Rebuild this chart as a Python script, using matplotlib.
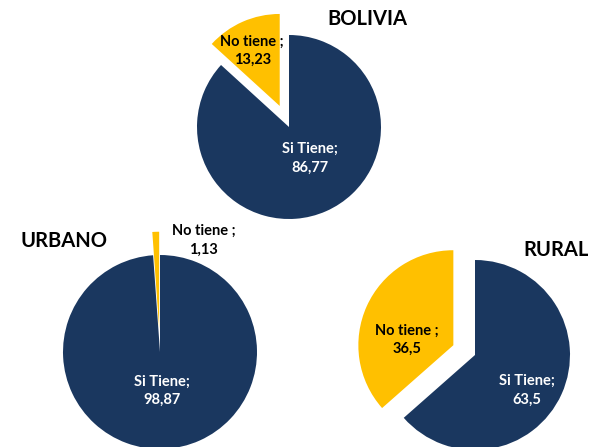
import matplotlib
matplotlib.use("Agg")
import matplotlib.pyplot as plt

categories = ["Si Tiene", "No tiene"]
label_fmt = ["Si Tiene;\n{}", "No tiene ;\n{}"]
regions = ["BOLIVIA", "URBANO", "RURAL"]
values_bolivia = [86.77, 13.23]
values_urbano = [98.87, 1.13]
values_rural = [63.5, 36.5]
value_text_bolivia = ["86,77", "13,23"]
value_text_urbano = ["98,87", "1,13"]
value_text_rural = ["63,5", "36,5"]

NAVY = "#1A375F"
YELLOW = "#FFC000"
FONT = ["Lato", "DejaVu Sans"]

W, H = 596, 447
fig = plt.figure(figsize=(W / 100, H / 100), dpi=100)
ax = fig.add_axes([0, 0, 1, 1])

# layout: center (px, from top), radius px, explode (fraction of radius),
# label offsets (radius units), title position
layout = {
    "BOLIVIA": dict(c=(289, 127), r=92, ex=0.25, si=(0.23, -0.34), no=(-0.40, 0.83),
                    title=(367, 19)),
    "URBANO": dict(c=(160, 352), r=97, ex=0.24, si=(0.02, -0.40), no=(0.45, 1.15),
                   title=(64, 241)),
    "RURAL": dict(c=(475, 355), r=95, ex=0.25, si=(0.55, -0.37), no=(-0.72, 0.16),
                  title=(556, 250)),
}
data = {
    "BOLIVIA": (values_bolivia, value_text_bolivia),
    "URBANO": (values_urbano, value_text_urbano),
    "RURAL": (values_rural, value_text_rural),
}

for reg in regions:
    vals, vtxt = data[reg]
    L = layout[reg]
    cx, cy = L["c"][0], H - L["c"][1]
    r = L["r"]
    ax.pie(vals, colors=[NAVY, YELLOW], startangle=90, counterclock=False,
           explode=[0, L["ex"] * r], center=(cx, cy), radius=r,
           wedgeprops=dict(linewidth=0))
    ax.text(cx + L["si"][0] * r, cy + L["si"][1] * r, label_fmt[0].format(vtxt[0]),
            ha="center", va="center", color="white", fontsize=10.5,
            fontweight="bold", family=FONT, linespacing=1.4)
    ax.text(cx + L["no"][0] * r, cy + L["no"][1] * r, label_fmt[1].format(vtxt[1]),
            ha="center", va="center", color="black", fontsize=10.5,
            fontweight="bold", family=FONT, linespacing=1.4)
    tx, ty = L["title"]
    ax.text(tx, H - ty, reg, ha="center", va="center", color="black",
            fontsize=14.5, fontweight="bold", family=FONT)

ax.set_xlim(0, W)
ax.set_ylim(0, H)
ax.set_aspect("equal")
ax.axis("off")
fig.savefig("out.png", dpi=100)
